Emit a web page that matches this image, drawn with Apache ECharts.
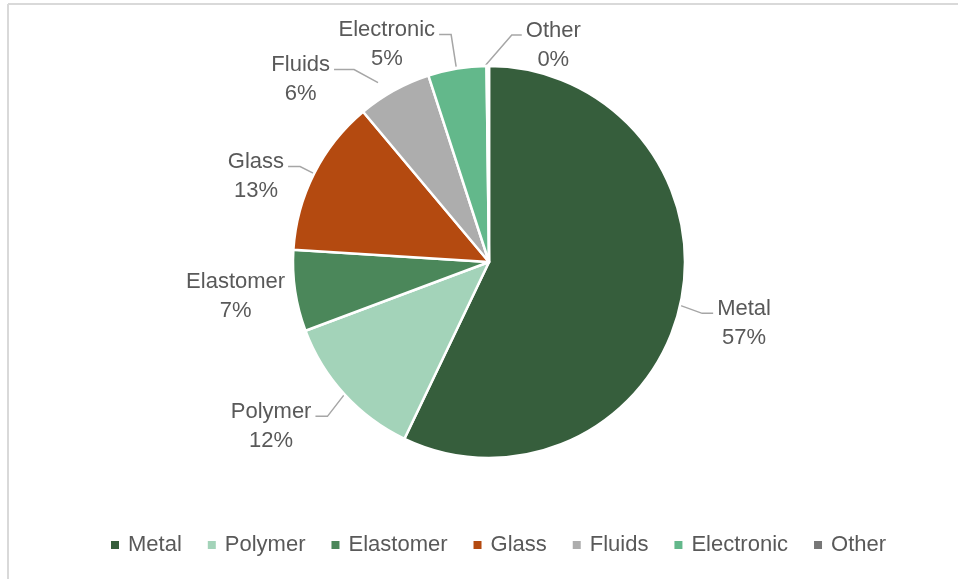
<!DOCTYPE html>
<html>
<head>
<meta charset="utf-8">
<script src="https://cdn.jsdelivr.net/npm/echarts@6/dist/echarts.min.js"></script>
<style>
html,body{margin:0;padding:0;background:#fff;}
#chart{width:958px;height:579px;}
</style>
</head>
<body>
<div id="chart"></div>
<script>
const categories = ['Metal', 'Polymer', 'Elastomer', 'Glass', 'Fluids', 'Electronic', 'Other'];
const values = [57.1, 12.2, 6.7, 12.9, 6.1, 4.8, 0.2];
const colors = ['#365e3c', '#a3d3b9', '#4b875a', '#b44a10', '#adadad', '#63b88b', '#777777'];

// Leader-line layout (offsets relative to the slice's outer-edge anchor point)
const leaderStart = [[0, 0], [0, 0], [0, 0], [0, 0], [-16, -8], [-1, -2], [-2, -1]];
const leaderBend  = [[22, 8], [-17, 22], [0, 0], [-14, -7], [-40, -21], [-6, -34], [24, -31]];
const leaderRun   = [11, -12, 0, -12, -20, -12, 10];

const chart = echarts.init(document.getElementById('chart'));
const FONT = '"Liberation Sans", Arial, sans-serif';
chart.setOption({
  animation: false,
  color: colors,
  graphic: [
    { type: 'line', shape: { x1: 8, y1: 4, x2: 8, y2: 579 }, style: { stroke: '#d9d9d9', lineWidth: 2 } },
    { type: 'line', shape: { x1: 8, y1: 4, x2: 958, y2: 4 }, style: { stroke: '#d9d9d9', lineWidth: 2 } }
  ],
  legend: {
    top: 529,
    left: 104,
    icon: 'rect',
    itemWidth: 10,
    itemHeight: 10,
    itemGap: 24,
    textStyle: { fontFamily: FONT, fontSize: 22, color: '#595959', padding: [0, 0, 0, 3] },
    data: categories
  },
  series: [{
    type: 'pie',
    center: [489, 262],
    radius: 196,
    startAngle: 90,
    clockwise: true,
    avoidLabelOverlap: false,
    itemStyle: { borderColor: '#fff', borderWidth: 2.5 },
    label: {
      show: true,
      position: 'outside',
      formatter: p => '{c|' + p.name + '}\n{c|' + Math.round(p.percent) + '%}',
      rich: { c: { align: 'center', fontFamily: FONT, fontSize: 22, color: '#595959', lineHeight: 29 } }
    },
    labelLine: { show: true, length: 14, length2: 12, lineStyle: { color: '#a6a6a6', width: 1.5 } },
    labelLayout: function (params) {
      const i = params.dataIndex;
      const p0 = params.labelLinePoints ? params.labelLinePoints[0] : [0, 0];
      if (i === 2) {
        return { x: p0[0] - 10, y: p0[1] + 6, align: 'right', verticalAlign: 'middle', hideOverlap: false };
      }
      const s = [p0[0] + leaderStart[i][0], p0[1] + leaderStart[i][1]];
      const b = [p0[0] + leaderBend[i][0], p0[1] + leaderBend[i][1]];
      const e = [b[0] + leaderRun[i], b[1]];
      const right = leaderRun[i] > 0;
      return {
        x: e[0] + (right ? 4 : -4),
        y: e[1] + 10,
        align: right ? 'left' : 'right',
        verticalAlign: 'middle',
        hideOverlap: false,
        labelLinePoints: [s, b, e]
      };
    },
    emphasis: { disabled: true },
    data: categories.map((c, i) => ({
      name: c,
      value: values[i],
      labelLine: { show: i !== 2 }
    }))
  }]
});
</script>
</body>
</html>
